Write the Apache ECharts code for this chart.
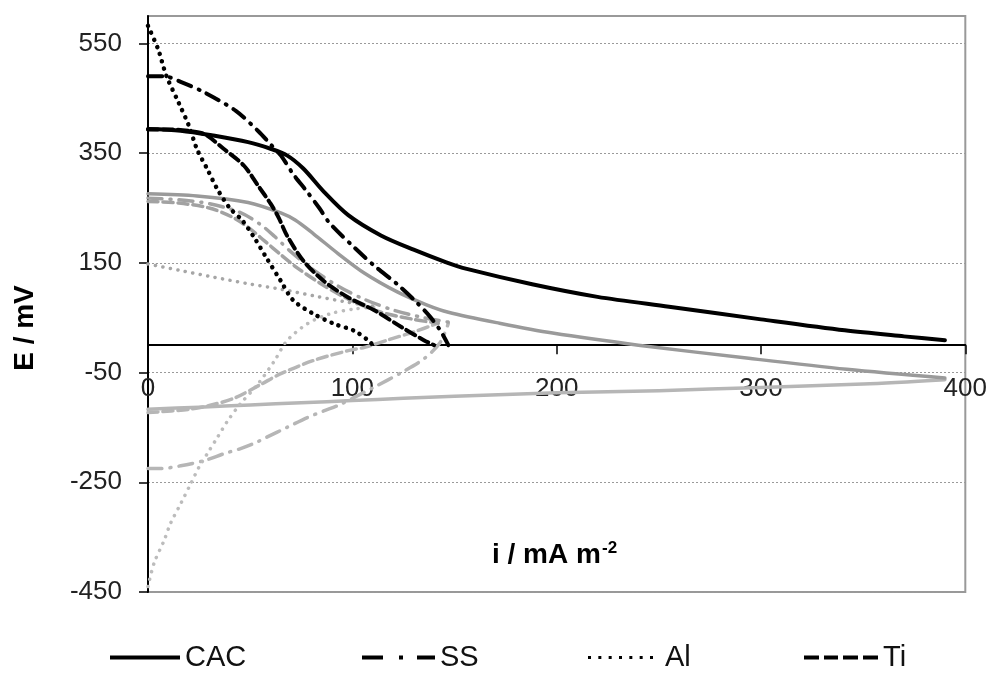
<!DOCTYPE html>
<html>
<head>
<meta charset="utf-8">
<script src="https://cdn.jsdelivr.net/npm/echarts@6/dist/echarts.min.js"></script>
<style>
html,body{margin:0;padding:0;background:#fff;}
#chart{width:990px;height:675px;}
</style>
</head>
<body>
<div id="chart"></div>
<script>
// ---- tick values ----
const yTicks = [-450, -250, -50, 150, 350, 550];
const xTicks = [0, 100, 200, 300, 400];

// ---- legend names ----
const legendNames = ['CAC', 'SS', 'Al', 'Ti'];

// ---- black curves (legend series) ----
const CAC = [[0,394],[16,391],[32,382],[49,370],[60,358],[68,346],[76,322],[86,280],[98,237],[114,200],[130,174],[146,151],[156,139],[188,111],[220,88],[255,70],[300,47],[341,27],[370,16],[390,9]];
const SS  = [[0,490],[8,490],[16,480],[28,460],[43,427],[54,390],[60,366],[65,346],[71,312],[78,279],[84,249],[89,222],[101,178],[111,144],[122,111],[132,76],[138,52],[143,27],[147,0]];
const Al  = [[0,582],[5,539],[9,491],[15,442],[20,400],[24,357],[29,321],[34,284],[40,250],[46,228],[52,196],[58,159],[65,117],[71,82],[81,57],[91,39],[101,26],[108,8],[110,0]];
const Ti  = [[0,393],[12,393],[21,390],[28,384],[37,358],[47,327],[54,290],[60,258],[64,232],[68,200],[76,154],[86,117],[98,87],[111,63],[124,33],[135,9],[140,0]];

// ---- gray curves (upper / lower branches) ----
const CAC_up = [[0,276],[24,272],[49,260],[65,241],[72,228],[81,203],[93,167],[106,131],[122,97],[136,74],[147,60],[172,40],[198,22],[240,0],[294,-24],[342,-44],[390,-60]];
const CAC_lo = [[0,-117],[25,-113],[50,-109],[75,-105],[100,-101],[125,-97],[150,-93],[200,-87],[250,-83],[300,-77],[350,-71],[390,-63]];
const SS_up  = [[0,268],[15,265],[30,258],[45,242],[55,220],[62,198],[70,170],[80,140],[92,110],[105,85],[120,64],[135,50],[147,42]];
const SS_lo  = [[0,-225],[6,-225],[16,-220],[28,-210],[37,-198],[45,-189],[52,-179],[58,-168],[68,-150],[78,-132],[86,-120],[93,-110],[100,-97],[110,-78],[124,-50],[135,-25],[143,5],[147,40]];
const Al_up  = [[0,148],[16,136],[32,124],[49,112],[65,102],[81,90],[98,78],[112,70]];
const Al_lo  = [[0,-440],[3,-397],[8,-355],[11,-325],[16,-289],[21,-252],[25,-222],[29,-198],[34,-168],[39,-138],[45,-108],[54,-70],[62,-28],[68,8],[78,39],[89,57],[101,66],[112,70]];
const Ti_up  = [[0,262],[15,259],[30,250],[42,232],[50,212],[57,190],[65,165],[73,141],[85,111],[98,84],[114,60],[130,47],[142,40]];
const Ti_lo  = [[0,-123],[20,-117],[30,-110],[42,-97],[55,-72],[65,-52],[81,-28],[98,-10],[106,-4],[117,9],[130,24],[142,40]];

const FONT = '"Liberation Sans", Arial, sans-serif';
const SOLID = 'solid';
const DASHDOT = [14, 8, 1, 8];
const DOT = [0.1, 7.5];
const DASH = [10, 5];

function line(name, data, color, type, width) {
  return {
    name: name, type: 'line', data: data, showSymbol: false, symbol: 'none',
    smooth: 0.3, color: color,
    lineStyle: { color: color, width: width, type: type, cap: 'round', join: 'round' },
    emphasis: { disabled: true }, silent: true, z: 2
  };
}

const chart = echarts.init(document.getElementById('chart'), null, { renderer: 'canvas' });
const legendBase = {
  selectedMode: false, orient: 'horizontal', top: 638, padding: 5,
  symbolKeepAspect: false,
  textStyle: { fontFamily: FONT, fontSize: 29, color: '#111' }
};
const dots = [];
for (let k = 0; k < 7; k++) { const x0 = k * 10.3; dots.push('M' + x0.toFixed(1) + ',0H' + (x0 + 3).toFixed(1) + 'V3H' + x0.toFixed(1) + 'Z'); }

chart.setOption({
  animation: false,
  backgroundColor: '#fff',
  grid: { left: 148, right: 23, top: 16, bottom: 83, show: true, borderColor: '#999', borderWidth: 2, backgroundColor: 'transparent' },
  xAxis: {
    type: 'value', min: xTicks[0], max: xTicks[xTicks.length - 1], interval: 100,
    axisLine: { onZero: true, lineStyle: { color: '#000', width: 2 } },
    axisTick: { show: true, length: 9, inside: false, lineStyle: { color: '#000', width: 1.5 } },
    axisLabel: { margin: -216, fontFamily: FONT, fontSize: 26, color: '#222', hideOverlap: false },
    splitLine: { show: false }
  },
  yAxis: {
    type: 'value', min: -450, max: 600, interval: 200,
    axisLine: { show: true, onZero: false, lineStyle: { color: '#000', width: 2 } },
    axisTick: { show: true, length: 9, lineStyle: { color: '#000', width: 1.5 }, customValues: yTicks },
    axisLabel: { margin: 26, fontFamily: FONT, fontSize: 26, color: '#222', customValues: yTicks },
    splitLine: { show: true, lineStyle: { color: '#9a9a9a', width: 1, type: [2, 2] } }
  },
  legend: [
    Object.assign({}, legendBase, { data: [legendNames[0]], left: 105, itemWidth: 70, itemHeight: 4, icon: 'path://M0,0H70V4H0Z' }),
    Object.assign({}, legendBase, { data: [legendNames[1]], left: 357, itemWidth: 73, itemHeight: 4, icon: 'path://M0,0H21V4H0Z M37,0H41V4H37Z M55,0H73V4H55Z' }),
    Object.assign({}, legendBase, { data: [legendNames[2]], left: 583, itemWidth: 65, itemHeight: 3, icon: 'path://' + dots.join(' '),
      textStyle: { fontFamily: FONT, fontSize: 29, color: '#111', padding: [0, 0, 0, 7] } }),
    Object.assign({}, legendBase, { data: [legendNames[3]], left: 799, itemWidth: 74, itemHeight: 4, icon: 'path://M0,0H15V4H0Z M20,0H34V4H20Z M39,0H54V4H39Z M59,0H74V4H59Z' })
  ],
  graphic: [
    { type: 'text', x: 25, y: 328, rotation: Math.PI / 2, silent: true,
      style: { text: 'E / mV', font: 'bold 28px ' + FONT, fill: '#000', align: 'center', verticalAlign: 'middle', textAlign: 'center', textVerticalAlign: 'middle' } },
    { type: 'text', x: 492, y: 555, silent: true,
      style: { text: 'i / mA m', font: 'bold 28px ' + FONT, fill: '#000', align: 'left', verticalAlign: 'middle', textAlign: 'left', textVerticalAlign: 'middle' } },
    { type: 'text', x: 602, y: 548, silent: true,
      style: { text: '-2', font: 'bold 17px ' + FONT, fill: '#000', align: 'left', verticalAlign: 'middle', textAlign: 'left', textVerticalAlign: 'middle' } }
  ],
  series: [
    line('CAC lower', CAC_lo, '#b6b6b6', SOLID, 3.5),
    line('SS lower', SS_lo, '#b6b6b6', DASHDOT, 3.5),
    line('Al lower', Al_lo, '#bcbcbc', DOT, 3.5),
    line('Ti lower', Ti_lo, '#b6b6b6', DASH, 3.5),
    line('CAC upper', CAC_up, '#9a9a9a', SOLID, 3.5),
    line('SS upper', SS_up, '#a2a2a2', DASHDOT, 3.5),
    line('Al upper', Al_up, '#a6a6a6', DOT, 3.5),
    line('Ti upper', Ti_up, '#a2a2a2', DASH, 3.5),
    line('CAC', CAC, '#000', SOLID, 4),
    line('SS', SS, '#000', DASHDOT, 4),
    line('Al', Al, '#000', DOT, 4.5),
    line('Ti', Ti, '#000', DASH, 4)
  ]
});
</script>
</body>
</html>
